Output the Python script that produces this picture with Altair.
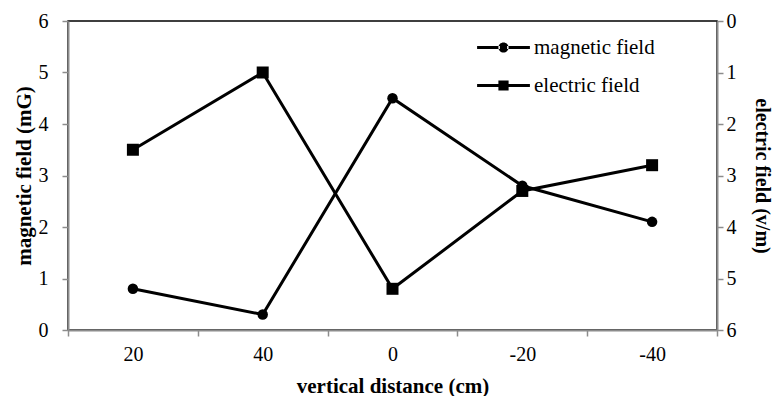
import altair as alt
import pandas as pd

categories = ["20", "40", "0", "-20", "-40"]
magnetic = [0.8, 0.3, 4.5, 2.8, 2.1]
electric = [2.5, 1.0, 5.2, 3.3, 2.8]
series_names = ["magnetic field", "electric field"]

df_mag = pd.DataFrame({"d": categories, "v": magnetic})
df_ele = pd.DataFrame({"d": categories, "v": electric})
df_leg = pd.DataFrame({"series": series_names})

FONT = "Liberation Serif"
GRAY = "#8c8c8c"

# legend symbols: line segment with marker (unit = sqrt(size)/2 px)
circle_sym = ("M-4.4,-0.25 L-0.6,-0.25 L-0.6,0.25 L-4.4,0.25 Z "
              "M0.6,-0.25 L4.4,-0.25 L4.4,0.25 L0.6,0.25 Z "
              "M-0.85,0 A0.85,0.85 0 1,0 0.85,0 A0.85,0.85 0 1,0 -0.85,0 Z")
square_sym = ("M-4.4,-0.25 L-0.8,-0.25 L-0.8,0.25 L-4.4,0.25 Z "
              "M0.8,-0.25 L4.4,-0.25 L4.4,0.25 L0.8,0.25 Z "
              "M-0.85,-0.85 L0.85,-0.85 L0.85,0.85 L-0.85,0.85 Z")

x_enc = alt.X(
    "d:N",
    sort=categories,
    scale=alt.Scale(type="band", paddingInner=0, paddingOuter=0),
    axis=alt.Axis(
        title="vertical distance (cm)",
        labelAngle=0,
        tickBand="extent",
        tickSize=6,
        labelPadding=8,
        titlePadding=11,
    ),
)

y_left = alt.Y(
    "v:Q",
    scale=alt.Scale(domain=[0, 6], nice=False),
    axis=alt.Axis(
        title="magnetic field (mG)",
        orient="left",
        values=[0, 1, 2, 3, 4, 5, 6],
        tickSize=6,
        labelPadding=14,
        titlePadding=4,
        grid=False,
    ),
)

y_right = alt.Y(
    "v:Q",
    scale=alt.Scale(domain=[0, 6], nice=False, reverse=True),
    axis=alt.Axis(
        title="electric field (v/m)",
        orient="right",
        values=[0, 1, 2, 3, 4, 5, 6],
        tickSize=6,
        labelPadding=3,
        titlePadding=15,
        titleFontSize=20,
        grid=False,
    ),
)

mag_base = alt.Chart(df_mag).encode(x=x_enc, y=y_left)
mag = mag_base.mark_line(color="black", strokeWidth=3) + mag_base.mark_point(
    shape="circle", filled=True, color="black", size=110, opacity=1
)

ele_base = alt.Chart(df_ele).encode(x=x_enc, y=y_right)
ele = ele_base.mark_line(color="black", strokeWidth=3) + ele_base.mark_point(
    shape="square", filled=True, color="black", size=144, opacity=1
)

legend_layer = (
    alt.Chart(df_leg)
    .transform_filter("false")
    .mark_point(filled=True, color="black")
    .encode(
        shape=alt.Shape(
            "series:N",
            scale=alt.Scale(domain=series_names, range=[circle_sym, square_sym]),
            legend=alt.Legend(
                title=None,
                orient="none",
                legendX=425,
                legendY=16,
                symbolSize=144,
                symbolFillColor="black",
                symbolStrokeWidth=0,
                symbolOpacity=1,
                labelOffset=20,
                rowPadding=16,
                labelFont=FONT,
                labelFontSize=21,
                labelColor="black",
            ),
        )
    )
)

chart = (
    alt.layer(alt.layer(mag, legend_layer), ele)
    .resolve_scale(y="independent")
    .properties(
        width=649,
        height=309,
        autosize=alt.AutoSizeParams(type="none"),
        padding={"left": 68, "top": 21, "right": 59, "bottom": 66},
    )
    .configure_view(stroke="black", strokeWidth=1.5)
    .configure_axis(
        labelFont=FONT,
        labelFontSize=20,
        labelColor="black",
        titleFont=FONT,
        titleFontSize=21,
        titleFontWeight="bold",
        titleColor="black",
        domainColor=GRAY,
        domainWidth=2,
        tickColor=GRAY,
        tickWidth=1.5,
    )
)

chart.save("out.html", embed_options={"renderer": "svg", "actions": False})
